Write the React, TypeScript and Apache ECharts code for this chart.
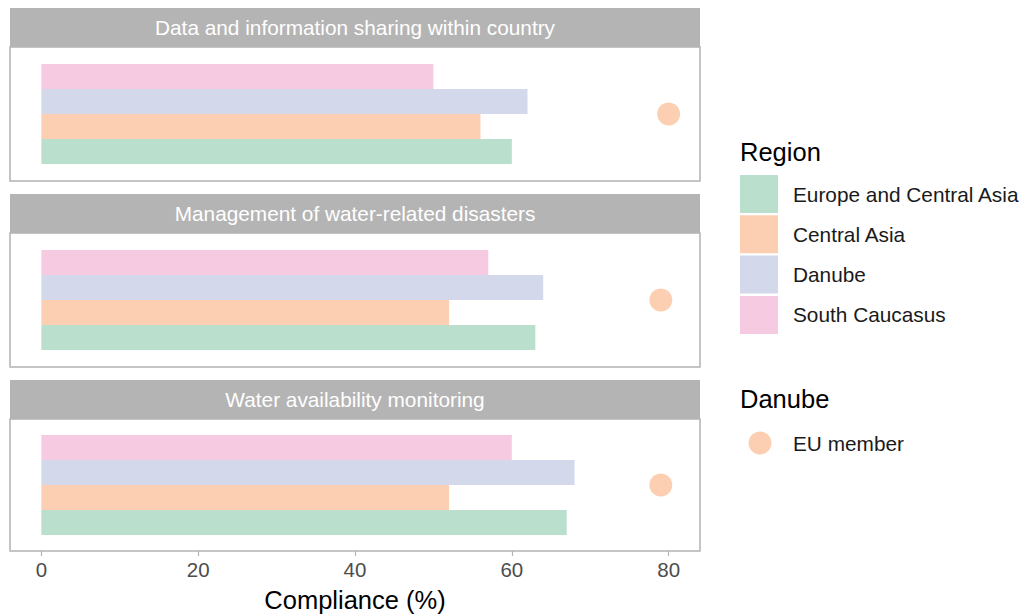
import React, { useEffect, useRef } from "react";
import * as echarts from "echarts";

const panels = [
  "Data and information sharing within country",
  "Management of water-related disasters",
  "Water availability monitoring",
];
const regions = ["Europe and Central Asia", "Central Asia", "Danube", "South Caucasus"];
const europeCentralAsia = [60, 63, 67];
const centralAsia = [56, 52, 52];
const danube = [62, 64, 68];
const southCaucasus = [50, 57, 60];
const euMember = [80, 79, 79];
const xTicks = [0, 20, 40, 60, 80];

const regionValues = [europeCentralAsia, centralAsia, danube, southCaucasus];
const colors = ["#bae0cd", "#fdcfb2", "#d3d9eb", "#f6cbe2"];
const FONT = "Liberation Sans, Arial, Helvetica, sans-serif";

const gridTops = [47, 233, 419];
const gridHeight = 134;
const gridLeft = 10;
const gridWidth = 690;

export default function App() {
  const ref = useRef<HTMLDivElement>(null);
  useEffect(() => {
    if (!ref.current) return;
    const chart = echarts.init(ref.current, null, { renderer: "svg" });

    const grids = gridTops.map((t) => ({
      left: gridLeft,
      top: t,
      width: gridWidth,
      height: gridHeight,
      show: true,
      borderColor: "#b3b3b3",
      borderWidth: 1.5,
      backgroundColor: "#fff",
      containLabel: false,
    }));

    const xAxes = gridTops.map((_, i) => {
      const last = i === gridTops.length - 1;
      return {
        type: "value",
        gridIndex: i,
        min: -4,
        max: 84,
        splitLine: { show: false },
        axisLine: { show: false },
        axisTick: {
          show: last,
          length: 5,
          customValues: xTicks,
          lineStyle: { color: "#b3b3b3", width: 1.2 },
        },
        axisLabel: {
          show: last,
          customValues: xTicks,
          color: "#4d4d4d",
          fontSize: 20.5,
          fontFamily: FONT,
          margin: 8,
        },
        name: last ? "Compliance (%)" : "",
        nameLocation: "middle",
        nameGap: 36,
        nameTextStyle: { fontSize: 25.5, color: "#000", fontFamily: FONT },
      };
    });

    const yAxes = gridTops.map((_, i) => ({
      type: "category",
      gridIndex: i,
      data: ["x"],
      show: false,
    }));

    const series: any[] = [];
    gridTops.forEach((_, i) => {
      // first series is drawn on top, so add regions in reverse order
      for (let k = regions.length - 1; k >= 0; k--) {
        series.push({
          type: "bar",
          name: regions[k],
          xAxisIndex: i,
          yAxisIndex: i,
          data: [regionValues[k][i]],
          barWidth: 25,
          barGap: "0%",
          itemStyle: { color: colors[k] },
        });
      }
      series.push({
        type: "scatter",
        name: "EU member",
        xAxisIndex: i,
        yAxisIndex: i,
        data: [[euMember[i], "x"]],
        symbolSize: 23,
        itemStyle: { color: "#fdcfb2", opacity: 1 },
      });
    });

    const graphic: any[] = [];
    panels.forEach((p, i) => {
      graphic.push({
        type: "rect",
        shape: { x: gridLeft, y: gridTops[i] - 39, width: gridWidth, height: 39 },
        style: { fill: "#b5b4b4" },
      });
      graphic.push({
        type: "text",
        x: gridLeft + gridWidth / 2,
        y: gridTops[i] - 19.5,
        style: {
          text: p,
          fill: "#ffffff",
          fontSize: 20.8,
          fontFamily: FONT,
          align: "center",
          verticalAlign: "middle",
        },
      });
    });
    graphic.push({
      type: "text",
      x: 740,
      y: 152,
      style: { text: "Region", fill: "#000", fontSize: 25.5, fontFamily: FONT, verticalAlign: "middle" },
    });
    graphic.push({
      type: "text",
      x: 740,
      y: 399,
      style: { text: "Danube", fill: "#000", fontSize: 25.5, fontFamily: FONT, verticalAlign: "middle" },
    });

    chart.setOption({
      animation: false,
      backgroundColor: "#fff",
      grid: grids,
      xAxis: xAxes,
      yAxis: yAxes,
      series,
      legend: [
        {
          data: regions,
          orient: "vertical",
          left: 740,
          top: 175,
          padding: 0,
          itemWidth: 38,
          itemHeight: 38,
          itemGap: 2.3,
          icon: "rect",
          selectedMode: false,
          textStyle: { fontSize: 20.8, color: "#1a1a1a", fontFamily: FONT, padding: [0, 0, 0, 10] },
        },
        {
          data: ["EU member"],
          orient: "vertical",
          left: 748.5,
          top: 431.5,
          padding: 0,
          itemWidth: 23,
          itemHeight: 23,
          icon: "circle",
          selectedMode: false,
          textStyle: { fontSize: 20.8, color: "#1a1a1a", fontFamily: FONT, padding: [0, 0, 0, 16.5] },
        },
      ],
      graphic,
    });
    return () => chart.dispose();
  }, []);
  return (
    <div
      ref={ref}
      style={{ position: "absolute", left: 0, top: 0, width: 1022, height: 614 }}
    />
  );
}
